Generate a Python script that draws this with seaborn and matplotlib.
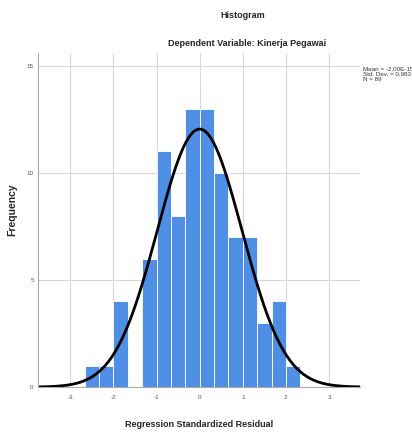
import numpy as np
import pandas as pd
import seaborn as sns
import matplotlib.pyplot as plt

# bin edges (width 1/3) and frequencies
bin_edges = [-8/3, -7/3, -2, -5/3, -4/3, -1, -2/3, -1/3, 0, 1/3, 2/3, 1, 4/3, 5/3, 2, 7/3]
counts = [1, 1, 4, 0, 6, 11, 8, 13, 13, 10, 7, 7, 3, 4, 1]
mean_val = -2.00e-15
std_val = 0.983
n_obs = 89

x_ticks = [-3, -2, -1, 0, 1, 2, 3]
y_ticks = [0, 5, 10, 15]

edges = np.array(bin_edges)
centers = (edges[:-1] + edges[1:]) / 2
df = pd.DataFrame({'resid': centers, 'count': counts})

sns.set_style('white')
plt.rcParams['font.family'] = ['Liberation Sans', 'DejaVu Sans']

fig = plt.figure(figsize=(4.12, 4.33), dpi=100)
ax = fig.add_axes([0.092, 0.106, 0.782, 0.772])

sns.histplot(data=df, x='resid', weights='count', bins=list(bin_edges), ax=ax,
             color='#4f8fe6', alpha=1, edgecolor='white', linewidth=0.6)

# normal curve scaled to counts
bw = 1 / 3
xs = np.linspace(-3.75, 3.75, 300)
ys = n_obs * bw * np.exp(-0.5 * ((xs - mean_val) / std_val) ** 2) / (std_val * np.sqrt(2 * np.pi))
sns.lineplot(x=xs, y=ys, ax=ax, color='black', linewidth=2)

ax.set_xlim(-3.75, 3.72)
ax.set_ylim(0, 15.6)
ax.set_xticks(x_ticks)
ax.set_yticks(y_ticks)
ax.set_xticklabels([str(t) for t in x_ticks])
ax.set_yticklabels([str(t) for t in y_ticks])
ax.tick_params(axis='x', labelsize=4.5, colors='#555555', length=0, pad=6)
ax.tick_params(axis='y', labelsize=4.5, colors='#555555', length=0, pad=3)
ax.grid(True, color='#d8d8d8', linewidth=0.8)
ax.set_axisbelow(True)
for s in ['top', 'right']:
    ax.spines[s].set_visible(False)
ax.spines['left'].set_color('#aaaaaa')
ax.spines['bottom'].set_color('#aaaaaa')
ax.spines['left'].set_linewidth(0.8)
ax.spines['bottom'].set_linewidth(0.8)

ax.set_xlabel('Regression Standardized Residual', fontsize=6.5, fontweight='bold', labelpad=14)
ax.set_ylabel('Frequency', fontsize=7.5, fontweight='bold')
ax.yaxis.set_label_coords(-0.065, 0.53)

fig.text(0.59, 0.964, 'Histogram', ha='center', va='center', fontsize=6.5, fontweight='bold')
fig.text(0.60, 0.900, 'Dependent Variable: Kinerja Pegawai', ha='center', va='center',
         fontsize=6.5, fontweight='bold')

fig.text(0.881, 0.848, 'Mean = -2,00E-15\nStd. Dev. = 0,983\nN = 89',
         ha='left', va='top', fontsize=4.5, color='#333333', linespacing=1.1)

fig.savefig('out.png', dpi=100)
